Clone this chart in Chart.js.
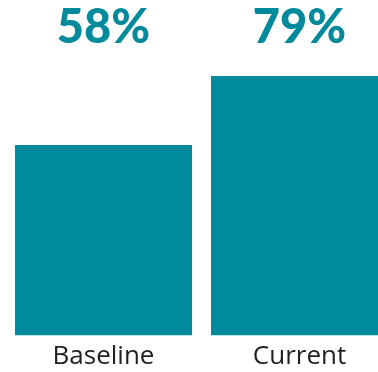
<!DOCTYPE html>
<html>
<head>
<meta charset="utf-8">
<script src="https://cdn.jsdelivr.net/npm/chart.js@4/dist/chart.umd.min.js"></script>
<style>
html,body{margin:0;padding:0;background:#fff;overflow:hidden;width:378px;height:372px;}
#wrap{position:absolute;left:0;top:0;width:402px;height:372px;}
</style>
</head>
<body>
<div id="wrap"><canvas id="c"></canvas></div>
<script>
const categories = ["Baseline", "Current"];
const values = [58, 79];
const valueLabels = ["58%", "79%"];

const teal = "#008a9b";

const topLabels = {
  id: "topLabels",
  afterDatasetsDraw(chart) {
    const ctx = chart.ctx;
    const meta = chart.getDatasetMeta(0);
    ctx.save();
    ctx.fillStyle = teal;
    ctx.font = "900 47px Lato";
    ctx.textAlign = "center";
    ctx.textBaseline = "alphabetic";
    meta.data.forEach((bar, i) => {
      ctx.fillText(valueLabels[i], bar.x, 43);
    });
    ctx.restore();
  }
};

new Chart(document.getElementById("c"), {
  type: "bar",
  data: {
    labels: categories,
    datasets: [{
      data: values,
      backgroundColor: teal,
      borderWidth: 0,
      barPercentage: 0.903,
      categoryPercentage: 1
    }]
  },
  options: {
    responsive: true,
    maintainAspectRatio: false,
    animation: false,
    layout: { padding: { top: 7, left: 5.5, right: 4.5, bottom: 0 } },
    plugins: { legend: { display: false }, tooltip: { enabled: false } },
    scales: {
      y: { display: false, min: 0, max: 100 },
      x: {
        grid: { display: false, drawTicks: false },
        border: { display: false },
        ticks: { color: "#231f20", font: { family: "Open Sans", size: 26 }, padding: 5 },
        afterFit(scale) { scale.height = 36.5; }
      }
    }
  },
  plugins: [topLabels]
});
</script>
</body>
</html>
